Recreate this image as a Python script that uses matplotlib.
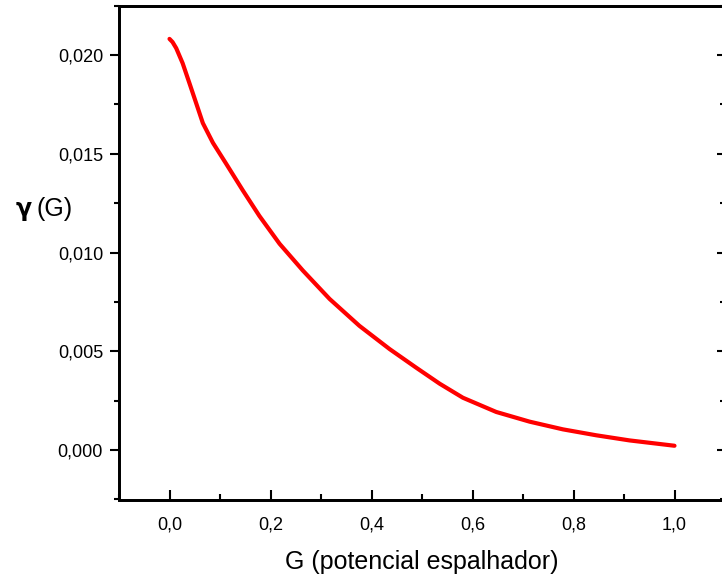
import matplotlib
matplotlib.use("Agg")
import matplotlib.pyplot as plt
from matplotlib.ticker import MultipleLocator, FuncFormatter

# curve
g_vals = [0.0, 0.006, 0.0133, 0.026, 0.0396, 0.0529, 0.066, 0.086, 0.112, 0.145,
          0.178, 0.218, 0.264, 0.317, 0.376, 0.436, 0.488, 0.535, 0.581, 0.647,
          0.713, 0.779, 0.845, 0.911, 1.0]
gamma_vals = [0.02081, 0.02065, 0.02034, 0.01958, 0.01856, 0.01755, 0.01655,
              0.01555, 0.0145, 0.01315, 0.01185, 0.01044, 0.00909, 0.00765,
              0.00629, 0.00511, 0.00418, 0.00336, 0.00265, 0.00193, 0.00144,
              0.00105, 0.00075, 0.00049, 0.00022]

xlabel = "G (potencial espalhador)"

plt.rcParams.update({"font.family": "Liberation Sans", "axes.linewidth": 2.0})

fig = plt.figure(figsize=(7.22, 5.78), dpi=100)
ax = fig.add_axes([119 / 722, 1 - 499.5 / 578, (725 - 119) / 722, (499.5 - 5.5) / 578])

ax.plot(g_vals, gamma_vals, color="#ff0000", lw=3.0, solid_capstyle="round",
        solid_joinstyle="round")

ax.set_xlim(-0.1, 1.1)
ax.set_ylim(-0.0025, 0.0225)
ax.xaxis.set_major_locator(MultipleLocator(0.2))
ax.xaxis.set_minor_locator(MultipleLocator(0.1))
ax.yaxis.set_major_locator(MultipleLocator(0.005))
ax.yaxis.set_minor_locator(MultipleLocator(0.0025))
ax.xaxis.set_major_formatter(FuncFormatter(lambda v, p: f"{v:.1f}".replace(".", ",")))
ax.yaxis.set_major_formatter(FuncFormatter(lambda v, p: f"{v:.3f}".replace(".", ",")))

ax.tick_params(axis="x", which="major", direction="in", length=7.5, width=1.5,
               labelsize=13, pad=12)
ax.tick_params(axis="x", which="minor", direction="in", length=4, width=1.5)
ax.tick_params(axis="y", which="major", direction="out", length=6.5, width=1.5,
               labelsize=13, pad=5)
ax.tick_params(axis="y", which="minor", direction="out", length=3.8, width=1.5)

# right-hand ticks point inward
ax2 = ax.twinx()
ax2.set_ylim(ax.get_ylim())
ax2.yaxis.set_major_locator(MultipleLocator(0.005))
ax2.yaxis.set_minor_locator(MultipleLocator(0.0025))
ax2.tick_params(axis="y", which="major", direction="in", length=6, width=1.5, labelright=False)
ax2.tick_params(axis="y", which="minor", direction="in", length=3.5, width=1.5)

ax.set_xlabel(xlabel, fontsize=18, labelpad=12)
# share one baseline for the bold gamma and "(G)"
label_y = 1 - 216 / 578
fig.text(0.021, label_y, "γ", fontsize=17, fontweight="bold", family="DejaVu Sans",
         va="baseline", ha="left")
fig.text(0.051, label_y, "(G)", fontsize=18, va="baseline", ha="left")

fig.savefig("out.png", dpi=100, facecolor="white")
